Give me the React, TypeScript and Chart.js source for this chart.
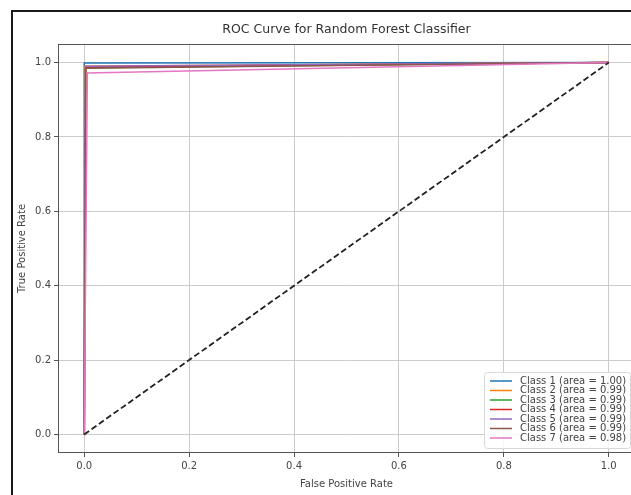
import React, { useEffect, useRef } from "react";
import { Chart, registerables } from "chart.js";

Chart.register(...registerables);

const chartTitle = "ROC Curve for Random Forest Classifier";
const xAxisLabel = "False Positive Rate";
const yAxisLabel = "True Positive Rate";
const tickValues = [0, 0.2, 0.4, 0.6, 0.8, 1.0];

const classLabels = ["Class 1", "Class 2", "Class 3", "Class 4", "Class 5", "Class 6", "Class 7"];
const aucValues = [1.0, 0.99, 0.99, 0.99, 0.99, 0.99, 0.98];
const fprValues = [
  [0, 0.0, 1],
  [0, 0.001, 1],
  [0, 0.002, 1],
  [0, 0.003, 1],
  [0, 0.002, 1],
  [0, 0.003, 1],
  [0, 0.006, 1],
];
const tprValues = [
  [0, 0.999, 1],
  [0, 0.99, 1],
  [0, 0.986, 1],
  [0, 0.988, 1],
  [0, 0.99, 1],
  [0, 0.985, 1],
  [0, 0.972, 1],
];
const chanceX = [0, 1];
const chanceY = [0, 1];

const classColors = ["#1f77b4", "#ff7f0e", "#2ca02c", "#d62728", "#9467bd", "#8c564b", "#e377c2"];

const FONT = "'DejaVu Sans', sans-serif";

const framePlugin = {
  id: "frame",
  afterDatasetsDraw(chart: any) {
    const { ctx, chartArea } = chart;
    ctx.save();
    ctx.strokeStyle = "#555";
    ctx.lineWidth = 1;
    ctx.strokeRect(chartArea.left + 0.5, chartArea.top + 0.5, chartArea.right - chartArea.left - 1, chartArea.bottom - chartArea.top - 1);
    ctx.restore();
  },
};

const legendPlugin = {
  id: "roclegend",
  afterDraw(chart: any) {
    const { ctx, chartArea } = chart;
    const right = chartArea.right - 5;
    const bottom = chartArea.bottom - 5;
    const left = 484;
    const top = 372;
    const step = 9.5;
    ctx.save();
    ctx.fillStyle = "rgba(255,255,255,0.85)";
    ctx.strokeStyle = "#d8d8d8";
    ctx.lineWidth = 1;
    ctx.beginPath();
    (ctx as any).roundRect(left + 0.5, top + 0.5, right - left, bottom - top, 3);
    ctx.fill();
    ctx.stroke();
    ctx.font = `10px ${FONT}`;
    ctx.textBaseline = "middle";
    ctx.textAlign = "left";
    classLabels.forEach((lab, i) => {
      const y = top + 9 + i * step;
      ctx.strokeStyle = classColors[i];
      ctx.lineWidth = 1.5;
      ctx.beginPath();
      ctx.moveTo(490, y);
      ctx.lineTo(512, y);
      ctx.stroke();
      ctx.fillStyle = "#444";
      ctx.fillText(`${lab} (area = ${aucValues[i].toFixed(2)})`, 520, y);
    });
    ctx.restore();
  },
};

export default function App() {
  const ref = useRef<HTMLCanvasElement>(null);
  useEffect(() => {
    if (!ref.current) return;
    const datasets: any[] = classLabels.map((lab, i) => ({
      label: `${lab} (area = ${aucValues[i].toFixed(2)})`,
      data: fprValues[i].map((x, j) => ({ x, y: tprValues[i][j] })),
      borderColor: classColors[i],
      backgroundColor: classColors[i],
      borderWidth: 1.5,
      pointRadius: 0,
      showLine: true,
      tension: 0,
      order: classLabels.length - i,
    }));
    datasets.push({
      label: "chance",
      data: chanceX.map((x, j) => ({ x, y: chanceY[j] })),
      borderColor: "#222",
      borderWidth: 1.8,
      borderDash: [6, 3],
      pointRadius: 0,
      showLine: true,
      order: 0,
    });
    const setTicks = (scale: any) => {
      scale.ticks = tickValues.map((v) => ({ value: v }));
    };
    const chart = new Chart(ref.current, {
      type: "scatter",
      data: { datasets },
      plugins: [framePlugin, legendPlugin],
      options: {
        responsive: false,
        animation: false,
        layout: { padding: { left: 0, right: 25, top: 0, bottom: 0 } },
        plugins: {
          legend: { display: false },
          tooltip: { enabled: false },
          title: {
            display: true,
            text: chartTitle,
            fullSize: false,
            color: "#333",
            font: { family: FONT, size: 12.5, weight: "normal" },
            padding: { top: 22, bottom: 7 },
          },
        },
        scales: {
          x: {
            type: "linear",
            min: -0.05,
            max: 1.05,
            afterBuildTicks: setTicks,
            afterFit: (s: any) => {
              s.height = 42;
            },
            grid: { color: "#cccccc", tickColor: "#555", tickLength: 4, lineWidth: 1 },
            border: { display: false },
            ticks: {
              color: "#444",
              padding: 3,
              font: { family: FONT, size: 10 },
              callback: (v: any) => Number(v).toFixed(1),
            },
            title: {
              display: true,
              text: xAxisLabel,
              color: "#444",
              font: { family: FONT, size: 10 },
              padding: { top: 0, bottom: 5 },
            },
          },
          y: {
            type: "linear",
            min: -0.05,
            max: 1.05,
            afterBuildTicks: setTicks,
            afterFit: (s: any) => {
              s.width = 58;
            },
            grid: { color: "#cccccc", tickColor: "#555", tickLength: 4, lineWidth: 1 },
            border: { display: false },
            ticks: {
              color: "#444",
              padding: 3,
              font: { family: FONT, size: 10 },
              callback: (v: any) => Number(v).toFixed(1),
            },
            title: {
              display: true,
              text: yAxisLabel,
              color: "#444",
              font: { family: FONT, size: 10 },
              padding: { top: 16, bottom: 0 },
            },
          },
        },
      },
    });
    return () => chart.destroy();
  }, []);

  return (
    <div style={{ position: "fixed", left: 0, top: 0, width: 631, height: 495, overflow: "hidden", background: "#fff" }}>
      <canvas ref={ref} width={660} height={495} style={{ position: "absolute", left: 0, top: 0, width: 660, height: 495 }} />
      <div style={{ position: "absolute", left: 11, top: 10, width: 620, height: 2, background: "#1a1a1a" }} />
      <div style={{ position: "absolute", left: 11, top: 11, width: 2, height: 484, background: "#1a1a1a" }} />
    </div>
  );
}
